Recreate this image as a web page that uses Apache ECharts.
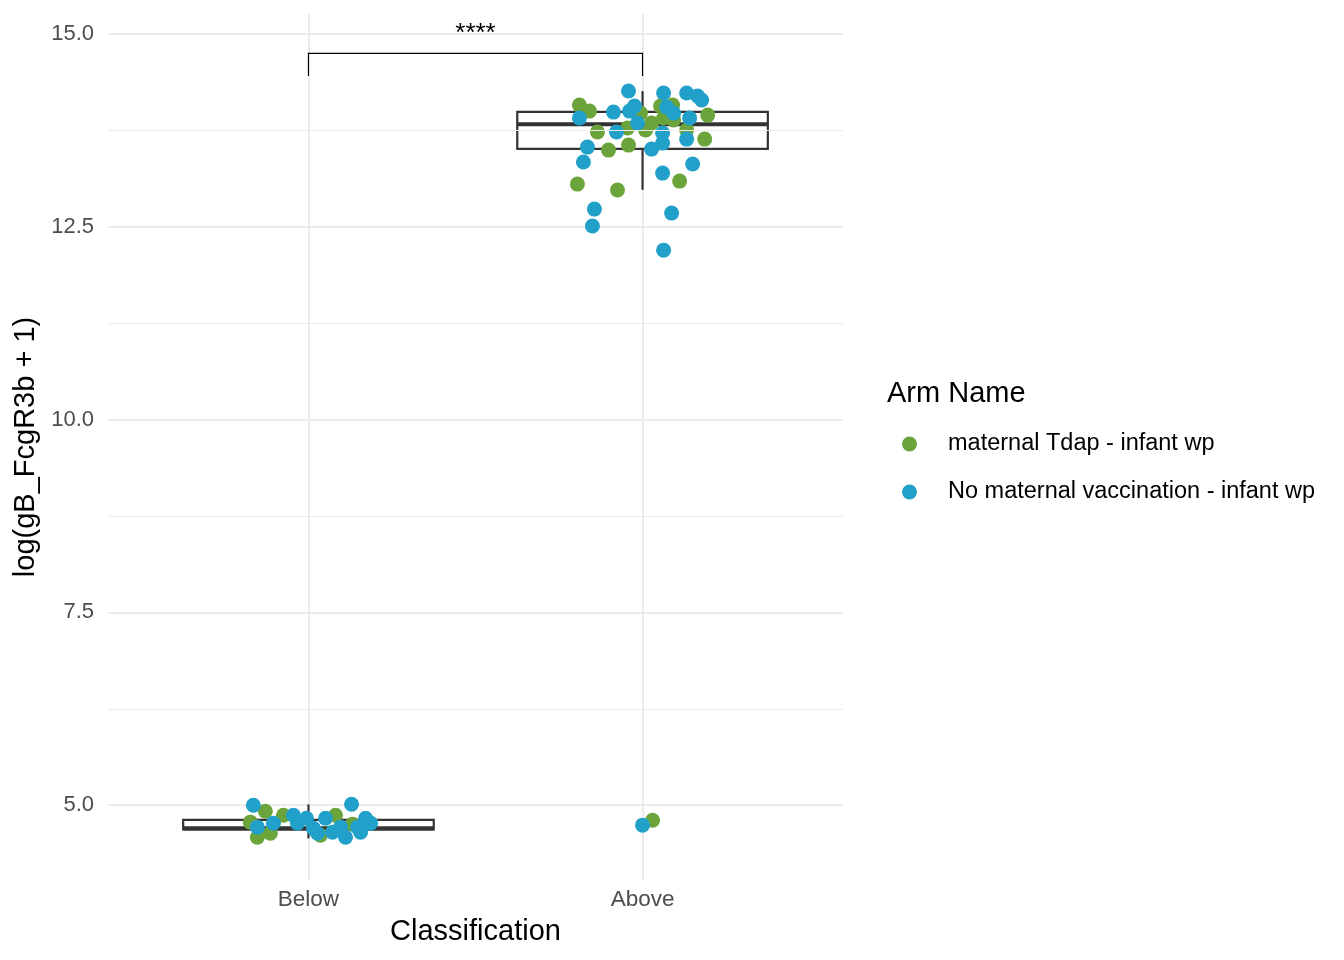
<!DOCTYPE html>
<html>
<head>
<meta charset="utf-8">
<script src="https://cdn.jsdelivr.net/npm/echarts@6/dist/echarts.min.js"></script>
<style>
html, body { margin: 0; padding: 0; background: #fff; }
#main { width: 1344px; height: 960px; }
</style>
</head>
<body>
<div id="main"></div>
<script>
// categories on a numeric x scale: Below = 1, Above = 2
var categories = ["Below", "Above"];
var yTicks = [5, 7.5, 10, 12.5, 15];
var yMinorTicks = [6.25, 8.75, 11.25, 13.75];

// jittered points [x, value]
var tdapPoints = [
  [0.871, 4.922], [0.826, 4.780], [0.847, 4.585], [0.886, 4.637], [0.925, 4.870],
  [1.036, 4.611], [1.081, 4.870], [1.132, 4.754],
  [1.811, 14.079], [1.841, 14.001], [1.865, 13.729], [1.898, 13.495], [1.805, 13.054],
  [1.925, 12.977], [1.958, 13.560], [1.955, 13.781], [1.994, 13.975], [2.009, 13.755],
  [2.027, 13.846], [2.054, 14.066], [2.090, 14.079], [2.063, 13.911], [2.093, 13.885],
  [2.132, 13.755], [2.195, 13.949], [2.186, 13.638], [2.111, 13.093], [2.030, 4.805]
];
var noVaxPoints = [
  [0.835, 5.000], [0.847, 4.715], [0.895, 4.767], [0.955, 4.870], [0.994, 4.831],
  [0.967, 4.767], [1.015, 4.702], [1.027, 4.637], [1.051, 4.831], [1.072, 4.650],
  [1.096, 4.715], [1.111, 4.585], [1.129, 5.013], [1.147, 4.715], [1.171, 4.831],
  [1.186, 4.767], [1.156, 4.650],
  [1.958, 14.261], [2.063, 14.235], [2.132, 14.235], [2.165, 14.196], [2.177, 14.144],
  [1.913, 13.988], [1.811, 13.911], [1.976, 14.066], [1.961, 14.001], [1.985, 13.846],
  [1.922, 13.729], [2.072, 14.053], [2.093, 13.975], [2.141, 13.911], [2.060, 13.716],
  [2.132, 13.638], [1.835, 13.534], [2.027, 13.508], [2.060, 13.586], [1.823, 13.340],
  [2.150, 13.314], [2.060, 13.197], [1.856, 12.730], [1.850, 12.510], [2.087, 12.678],
  [2.063, 12.198], [2.000, 4.741]
];

// box stats [x, lower whisker, q1, median, q3, upper whisker]
var boxStats = [
  [1, 4.57, 4.685, 4.70, 4.81, 5.01],
  [2, 12.98, 13.51, 13.83, 13.99, 14.26]
];

// significance bracket [x1, x2, top, bottom, label]
var bracket = [[1, 2, 14.75, 14.455, "****"]];

var chart = echarts.init(document.getElementById("main"));
var font = "Liberation Sans, Arial, sans-serif";

chart.setOption({
  animation: false,
  textStyle: { fontFamily: font },
  title: {
    text: "Arm Name",
    left: 882,
    top: 374,
    textStyle: { fontFamily: font, fontSize: 29, fontWeight: "normal", color: "#000" }
  },
  legend: {
    orient: "vertical",
    left: 897,
    top: 427,
    itemWidth: 15,
    itemHeight: 15,
    itemGap: 24,
    icon: "circle",
    data: ["maternal Tdap - infant wp", "No maternal vaccination - infant wp"],
    textStyle: { fontFamily: font, fontSize: 23.5, color: "#000", padding: [0, 0, 0, 26] }
  },
  grid: { left: 108, right: 501, top: 14, bottom: 80 },
  xAxis: {
    type: "value",
    min: 0.4,
    max: 2.6,
    name: "Classification",
    nameLocation: "middle",
    nameGap: 37,
    nameTextStyle: { fontFamily: font, fontSize: 29, color: "#000" },
    axisLine: { show: false },
    axisTick: { show: false, customValues: [1, 2] },
    axisLabel: {
      customValues: [1, 2],
      margin: 8,
      fontSize: 22.5,
      color: "#4D4D4D",
      formatter: function (v) { return categories[Math.round(v) - 1]; }
    },
    splitLine: { show: true, lineStyle: { color: "#EBEBEB", width: 2 } }
  },
  yAxis: {
    type: "value",
    min: 4.03,
    max: 15.26,
    name: "log(gB_FcgR3b + 1)",
    nameLocation: "middle",
    nameGap: 63,
    nameTextStyle: { fontFamily: font, fontSize: 29, color: "#000" },
    axisLine: { show: false },
    axisTick: { show: false, customValues: yTicks },
    axisLabel: {
      customValues: yTicks,
      margin: 14,
      fontSize: 22,
      color: "#4D4D4D",
      formatter: function (v) { return v.toFixed(1); }
    },
    splitLine: { show: true, lineStyle: { color: "#EBEBEB", width: 2 } }
  },
  series: [
    {
      type: "line",
      data: [],
      silent: true,
      z: 0,
      markLine: {
        silent: true,
        symbol: "none",
        label: { show: false },
        lineStyle: { color: "#EBEBEB", width: 1, type: "solid" },
        data: yMinorTicks.map(function (v) { return { yAxis: v }; })
      }
    },
    {
      type: "custom",
      name: "box",
      z: 1,
      data: boxStats,
      renderItem: function (params, api) {
        var x = api.value(0);
        var hw = 0.375;
        var lo = api.coord([x, api.value(1)]);
        var q1 = api.coord([x, api.value(2)]);
        var md = api.coord([x, api.value(3)]);
        var q3 = api.coord([x, api.value(4)]);
        var hi = api.coord([x, api.value(5)]);
        var left = api.coord([x - hw, api.value(3)])[0];
        var right = api.coord([x + hw, api.value(3)])[0];
        var stroke = { stroke: "#333333", lineWidth: 2.2, fill: null };
        return {
          type: "group",
          children: [
            { type: "line", shape: { x1: lo[0], y1: lo[1], x2: q1[0], y2: q1[1] }, style: stroke },
            { type: "line", shape: { x1: q3[0], y1: q3[1], x2: hi[0], y2: hi[1] }, style: stroke },
            { type: "rect", shape: { x: left, y: q3[1], width: right - left, height: q1[1] - q3[1] },
              style: { stroke: "#333333", lineWidth: 2.2, fill: "#fff" } },
            { type: "line", shape: { x1: left, y1: md[1], x2: right, y2: md[1] },
              style: { stroke: "#333333", lineWidth: 4.2 } }
          ]
        };
      }
    },
    {
      type: "scatter",
      name: "maternal Tdap - infant wp",
      data: tdapPoints,
      symbolSize: 15,
      itemStyle: { color: "#6BA43A", opacity: 1 },
      z: 3
    },
    {
      type: "scatter",
      name: "No maternal vaccination - infant wp",
      data: noVaxPoints,
      symbolSize: 15,
      itemStyle: { color: "#21A1C9", opacity: 1 },
      z: 4
    },
    {
      type: "custom",
      name: "bracket",
      z: 5,
      data: bracket,
      renderItem: function (params, api) {
        var a = api.coord([api.value(0), api.value(3)]);
        var b = api.coord([api.value(0), api.value(2)]);
        var c = api.coord([api.value(1), api.value(2)]);
        var d = api.coord([api.value(1), api.value(3)]);
        return {
          type: "group",
          children: [
            { type: "polyline", shape: { points: [a, b, c, d] },
              style: { stroke: "#000", lineWidth: 1.2, fill: null } },
            { type: "text", x: (b[0] + c[0]) / 2, y: b[1] - 20,
              style: { text: api.value(4), fontFamily: font, fontSize: 26, fill: "#000",
                       align: "center", verticalAlign: "middle" } }
          ]
        };
      }
    }
  ]
});
</script>
</body>
</html>
